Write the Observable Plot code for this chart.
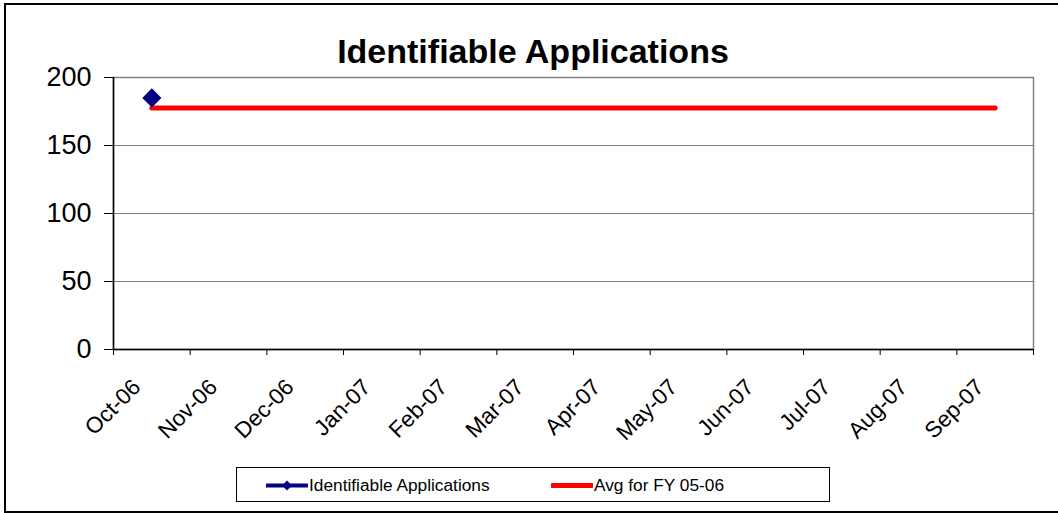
<!DOCTYPE html>
<html>
<head>
<meta charset="utf-8">
<script src="https://cdn.jsdelivr.net/npm/d3@7"></script>
<script src="https://cdn.jsdelivr.net/npm/@observablehq/plot@0.6"></script>
<style>
  html, body { margin: 0; padding: 0; background: #fff; overflow: hidden; }
  #wrap { position: relative; width: 1058px; height: 513px; overflow: hidden; font-family: "Liberation Sans", Arial, sans-serif; }
  #chart { position: absolute; left: 0; top: 0; }
  #title { position: absolute; left: 0; width: 1066px; top: 34px; text-align: center; font-weight: bold; font-size: 34px; line-height: 34px; color: #000; }
  #border { position: absolute; left: 4px; top: 3px; width: 1070px; height: 506px; border: 2px solid #000; pointer-events: none; }
  #legend { position: absolute; left: 236px; top: 467px; width: 594px; height: 35px; border: 1px solid #000; background: #fff; box-sizing: border-box; }
  .item { position: absolute; top: 0; height: 35px; font-size: 17.3px; line-height: 35px; white-space: nowrap; }
  .item svg { position: absolute; top: 0; left: 0; }
  .item span { position: absolute; left: 43px; top: 0; }
</style>
</head>
<body>
<div id="wrap">
  <div id="chart"></div>
  <div id="title">Identifiable Applications</div>
  <div id="legend"></div>
  <div id="border"></div>
</div>
<script>
const months = ["Oct-06","Nov-06","Dec-06","Jan-07","Feb-07","Mar-07","Apr-07","May-07","Jun-07","Jul-07","Aug-07","Sep-07"];
const identifiable = [185, null, null, null, null, null, null, null, null, null, null, null];
const avgFY0506 = [177.6, 177.6, 177.6, 177.6, 177.6, 177.6, 177.6, 177.6, 177.6, 177.6, 177.6, 177.6];
const yTicks = [0, 50, 100, 150, 200];
const seriesNames = ["Identifiable Applications", "Avg for FY 05-06"];
const seriesColors = ["#000080", "#FF0000"];

const rowsIdent = months.map((m, i) => ({i, month: m, value: identifiable[i]}));
const rowsAvg = months.map((m, i) => ({i, month: m, value: avgFY0506[i]}));
const bounds = d3.range(months.length + 1);

const plot = Plot.plot({
  width: 1058,
  height: 460,
  marginTop: 77,
  marginBottom: 111,
  marginLeft: 113,
  marginRight: 25,
  style: {fontFamily: "'Liberation Sans', Arial, sans-serif", color: "#000", background: "transparent"},
  x: {domain: [0, months.length], axis: null, label: null},
  y: {domain: [0, 200], axis: null, label: null},
  marks: [
    Plot.gridY(yTicks.filter(d => d > 0), {stroke: "#808080", strokeOpacity: 1, strokeWidth: 1}),
    Plot.frame({stroke: "#808080", strokeWidth: 1.5}),
    Plot.ruleX([0], {stroke: "#000", strokeWidth: 1.5}),
    Plot.ruleY([0], {stroke: "#000", strokeWidth: 1.5}),
    Plot.axisY({ticks: yTicks, tickSize: 9, tickPadding: 13, fontSize: 27, stroke: "#000", label: null, tickFormat: d => String(d)}),
    Plot.axisX({ticks: bounds, tickSize: 6, tickFormat: () => "", stroke: "#000", label: null}),
    Plot.text(months, {
      x: (d, i) => i + 0.5, text: d => d, frameAnchor: "bottom",
      rotate: -45, textAnchor: "end", lineAnchor: "bottom",
      dx: -10, dy: 39, fontSize: 22.5, fill: "#000"
    }),
    Plot.line(rowsAvg, {x: d => d.i + 0.5, y: "value", stroke: seriesColors[1], strokeWidth: 5, strokeLinecap: "round"}),
    Plot.line(rowsIdent, {x: d => d.i + 0.5, y: "value", stroke: seriesColors[0], strokeWidth: 3}),
    Plot.dot(rowsIdent.filter(d => d.value != null), {x: d => d.i + 0.5, y: "value", symbol: "diamond2", r: 8.6, fill: seriesColors[0], stroke: "none"})
  ]
});
document.getElementById("chart").appendChild(plot);

// legend
const legend = document.getElementById("legend");
const itemLefts = [29, 314];
seriesNames.forEach((name, k) => {
  const div = document.createElement("div");
  div.className = "item";
  div.style.left = itemLefts[k] + "px";
  const w = 42;
  let svg = `<svg width="${w}" height="35"><line x1="1" x2="${w - 1}" y1="17.5" y2="17.5" stroke="${seriesColors[k]}" stroke-width="${k === 0 ? 4 : 5}" stroke-linecap="round"/>`;
  if (k === 0) svg += `<path d="M${w/2},12.5L${w/2+5},17.5L${w/2},22.5L${w/2-5},17.5Z" fill="${seriesColors[k]}"/>`;
  svg += `</svg>`;
  div.innerHTML = svg + `<span>${name}</span>`;
  legend.appendChild(div);
});
</script>
</body>
</html>
